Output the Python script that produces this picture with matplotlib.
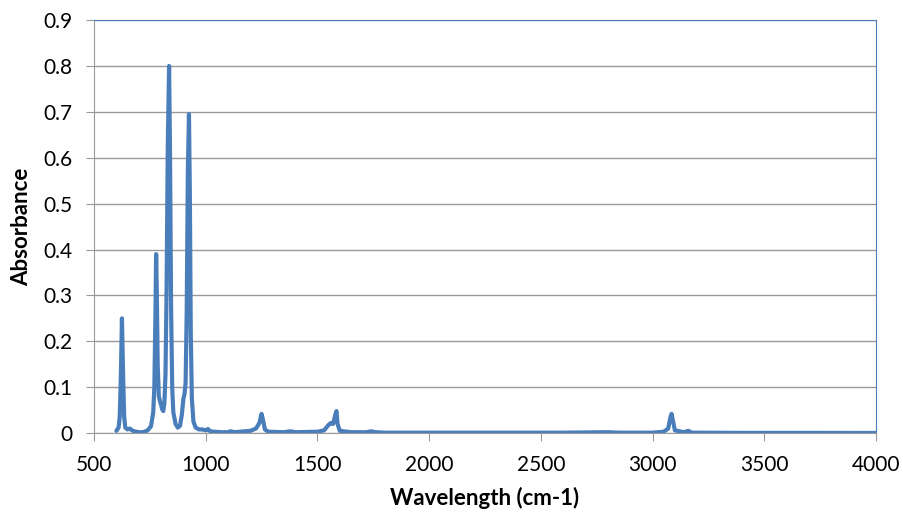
import matplotlib.pyplot as plt

# IR spectrum
wavenumber = [600, 610, 615, 620, 625, 630, 635, 640, 650, 660, 670, 680, 700, 720,
              740, 755, 765, 770, 775, 778, 781, 785, 790, 795, 800, 805, 810, 815,
              820, 825, 830, 836, 840, 845, 850, 855, 865, 875, 885, 893, 900, 905,
              910, 915, 920, 925, 929, 933, 938, 945, 955, 970, 985, 1000, 1010, 1020,
              1040, 1070, 1100, 1110, 1130, 1200, 1225, 1240, 1250, 1258, 1265, 1280,
              1350, 1380, 1400, 1500, 1530, 1550, 1560, 1570, 1580, 1585, 1590, 1600,
              1650, 1720, 1740, 1760, 1800, 2000, 2300, 2600, 2800, 2850, 3000, 3050,
              3070, 3080, 3085, 3090, 3100, 3140, 3160, 3175, 3400, 3700, 4000]
absorbance = [0.005, 0.012, 0.035, 0.12, 0.25, 0.13, 0.035, 0.012, 0.008, 0.01, 0.006,
              0.004, 0.002, 0.002, 0.006, 0.015, 0.045, 0.1, 0.26, 0.39, 0.31, 0.15,
              0.08, 0.07, 0.062, 0.052, 0.048, 0.065, 0.13, 0.32, 0.62, 0.80, 0.62, 0.27,
              0.1, 0.045, 0.02, 0.012, 0.016, 0.04, 0.075, 0.085, 0.11, 0.27, 0.57,
              0.695, 0.52, 0.22, 0.075, 0.025, 0.012, 0.008, 0.008, 0.006, 0.009, 0.004,
              0.003, 0.002, 0.002, 0.004, 0.002, 0.005, 0.01, 0.022, 0.042, 0.025,
              0.008, 0.003, 0.002, 0.004, 0.002, 0.003, 0.006, 0.018, 0.022, 0.02,
              0.04, 0.048, 0.02, 0.005, 0.002, 0.002, 0.004, 0.002, 0.001, 0.001,
              0.001, 0.001, 0.002, 0.001, 0.001, 0.003, 0.01, 0.035, 0.042, 0.03,
              0.006, 0.002, 0.005, 0.001, 0.0005, 0.0005, 0.0003]

x_ticks = [500, 1000, 1500, 2000, 2500, 3000, 3500, 4000]
y_ticks = [0, 0.1, 0.2, 0.3, 0.4, 0.5, 0.6, 0.7, 0.8, 0.9]

plt.rcParams['font.family'] = ['Lato', 'DejaVu Sans']

fig = plt.figure(figsize=(9.04, 5.15), dpi=100)
ax = fig.add_axes([0.104, 0.159, 0.865, 0.802])

ax.plot(wavenumber, absorbance, color='#4A7EBB', lw=3.0, solid_joinstyle='round',
        solid_capstyle='round')

ax.set_xlim(500, 4000)
ax.set_ylim(0, 0.9)
ax.set_xticks(x_ticks)
ax.set_yticks(y_ticks)
ax.set_yticklabels(['0'] + [f'{v:.1f}' for v in y_ticks[1:]])
ax.yaxis.grid(True, color='#999999', lw=1)
ax.set_axisbelow(True)
ax.tick_params(axis='both', labelsize=15, color='#999999', length=5.5,
               direction='out', pad=10)

for s in ['left', 'bottom']:
    ax.spines[s].set_color('#999999')
for s in ['top', 'right']:
    ax.spines[s].set_color('#4A7EBB')

ax.set_xlabel('Wavelength (cm-1)', fontsize=16, fontweight='bold', labelpad=9)
ax.set_ylabel('Absorbance', fontsize=16, fontweight='bold', labelpad=8)

fig.savefig('out.png', dpi=100)
